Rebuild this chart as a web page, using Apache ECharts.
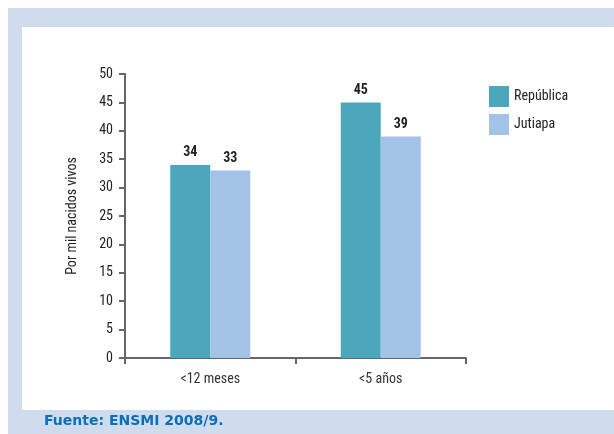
<!DOCTYPE html>
<html><head><meta charset="utf-8">
<script src="https://cdn.jsdelivr.net/npm/echarts@6/dist/echarts.min.js"></script>
<style>html,body{margin:0;padding:0;background:#fff}#c{width:614px;height:434px}</style>
</head><body><div id="c"></div>
<script>
var categories = ['<12 meses', '<5 años'];
var republica = [34, 45];
var jutiapa = [33, 39];
var yTicks = [0, 50, 5];

var font = '"Liberation Sans Narrow", "Roboto Condensed", "Liberation Sans", sans-serif';
var myChart = echarts.init(document.getElementById('c'));
var lbl = { show: true, position: 'top', color: '#222', fontWeight: 'bold', fontSize: 14, fontFamily: font };
option = {
    animation: false,
    graphic: [
        { type: 'rect', z: -10, shape: { x: 8, y: 8, width: 606, height: 426 }, style: { fill: '#cfdcee' } },
        { type: 'rect', z: -9, shape: { x: 22, y: 27, width: 592, height: 383 }, style: { fill: '#fff' } },
        { type: 'text', left: 44, top: 414, style: { text: 'Fuente: ENSMI 2008/9.', fill: '#0a6fb5', font: 'bold 14px "DejaVu Sans", Verdana, sans-serif' } }
    ],
    grid: { left: 125, right: 148, top: 74, bottom: 76 },
    legend: {
        orient: 'vertical', left: 484, top: 81, itemWidth: 20, itemHeight: 21, itemGap: 7,
        textStyle: { color: '#222', fontSize: 14, fontFamily: font },
        icon: 'rect'
    },
    xAxis: {
        type: 'category', data: categories,
        axisLine: { lineStyle: { color: '#666', width: 2 } },
        axisTick: { show: true, length: 6, lineStyle: { color: '#666', width: 2 } },
        axisLabel: { color: '#333', fontSize: 14, fontFamily: font, margin: 14 }
    },
    yAxis: {
        type: 'value', min: yTicks[0], max: yTicks[1], interval: yTicks[2],
        name: 'Por mil nacidos vivos', nameLocation: 'middle', nameGap: 46,
        nameTextStyle: { color: '#222', fontSize: 14, fontFamily: font },
        axisLine: { show: true, lineStyle: { color: '#666', width: 2 } },
        axisTick: { show: true, length: 6, lineStyle: { color: '#666', width: 2 } },
        axisLabel: { color: '#222', fontSize: 14, fontFamily: font, margin: 12 },
        splitLine: { show: false }
    },
    series: [
        { name: 'República', type: 'bar', data: republica, barWidth: 40, barGap: '0%', itemStyle: { color: '#4ba8bc' }, label: lbl },
        { name: 'Jutiapa', type: 'bar', data: jutiapa, barWidth: 40, itemStyle: { color: '#a3c3e6' }, label: lbl }
    ]
};
myChart.setOption(option);
</script></body></html>
